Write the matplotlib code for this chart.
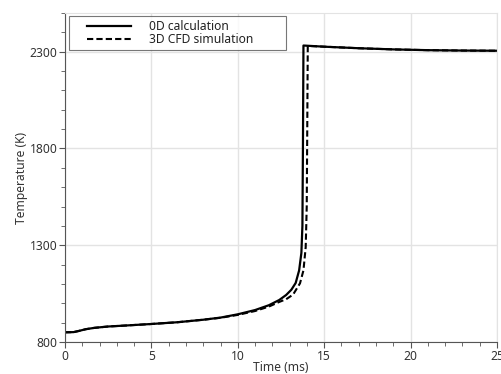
import matplotlib
matplotlib.use("Agg")
import matplotlib.pyplot as plt
from matplotlib.ticker import MultipleLocator
from matplotlib.lines import Line2D
from matplotlib.legend_handler import HandlerLine2D

plt.rcParams["font.family"] = ["Noto Sans", "DejaVu Sans"]

# 0D calculation
t_0d = [0, 0.5, 0.8, 1.2, 1.7, 2.5, 3.5, 5, 6.5, 8, 9, 10, 11, 11.8, 12.4,
        12.8, 13.1, 13.35, 13.55, 13.68, 13.74, 13.77, 13.8, 15, 17, 19, 21,
        23, 25]
T_0d = [850, 851, 857, 866, 873, 880, 885, 893, 902, 915, 926, 943, 965, 990,
        1017, 1043, 1070, 1105, 1170, 1260, 1400, 1800, 2332, 2326, 2318, 2312,
        2308, 2306, 2305]

# 3D CFD simulation
t_cfd = [0, 0.5, 0.8, 1.2, 1.7, 2.5, 3.5, 5, 6.5, 8, 9, 10, 11, 11.8, 12.4,
         12.8, 13.2, 13.6, 13.8, 13.93, 13.99, 14.02, 14.05, 15, 17, 19, 21,
         23, 25]
T_cfd = [850, 851, 857, 866, 873, 880, 885, 893, 902, 915, 925, 940, 960, 983,
         1007, 1021, 1045, 1103, 1170, 1290, 1500, 1900, 2330, 2326, 2318,
         2312, 2308, 2306, 2305]

fig = plt.figure(figsize=(5.01, 3.74), dpi=100)
ax = fig.add_axes([0.1297, 0.0856, 0.8623, 0.8796])

ax.plot(t_0d, T_0d, color="black", lw=1.6, label="0D calculation")
ax.plot(t_cfd, T_cfd, color="black", lw=1.5, dashes=(3, 1.5),
        label="3D CFD simulation")

ax.set_xlim(0, 25)
ax.set_ylim(800, 2500)
ax.xaxis.set_major_locator(MultipleLocator(5))
ax.xaxis.set_minor_locator(MultipleLocator(1))
ax.set_yticks([800, 1300, 1800, 2300])
ax.yaxis.set_minor_locator(MultipleLocator(100))

ax.grid(True, which="major", color="#e3e3e3", lw=1)
ax.set_axisbelow(True)
for s in ["top", "right"]:
    ax.spines[s].set_color("#e3e3e3")
for s in ["left", "bottom"]:
    ax.spines[s].set_color("#555555")
ax.tick_params(which="major", length=4, color="#555555", labelsize=8.7,
               labelcolor="#333333", pad=1.5)
ax.tick_params(which="minor", length=3, color="#555555")

ax.set_xlabel("Time (ms)", fontsize=8.7, color="#333333", labelpad=-1)
ax.set_ylabel("Temperature (K)", fontsize=8.7, color="#333333", labelpad=1)

# handle shifted right inside the legend box
hmap = {Line2D: HandlerLine2D(xpad=1.16)}
leg = ax.legend(loc="lower left", bbox_to_anchor=(0.0093, 0.8875, 0.5023, 0.0943),
                mode="expand", fontsize=8.7, frameon=True, fancybox=False,
                handlelength=4.8, handletextpad=1.5, labelspacing=0.05,
                borderpad=0.3, borderaxespad=0, handler_map=hmap)
leg.get_frame().set_edgecolor("#555555")
leg.get_frame().set_linewidth(0.8)
for txt in leg.get_texts():
    txt.set_color("#222222")

fig.savefig("out.png", dpi=100)
